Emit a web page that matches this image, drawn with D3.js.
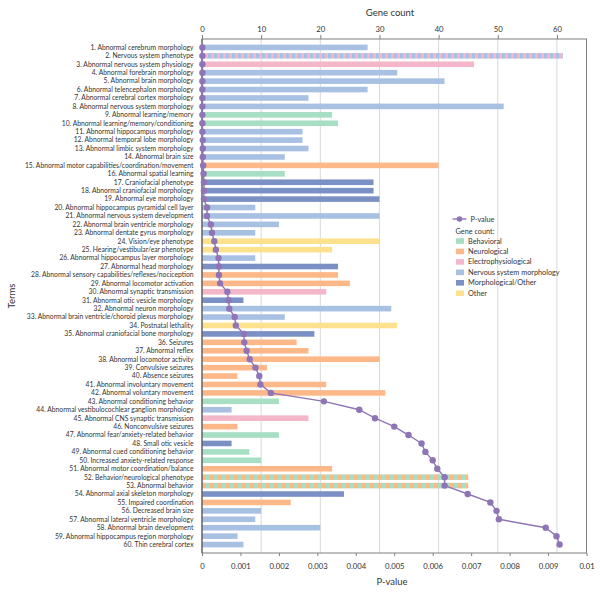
<!DOCTYPE html>
<html><head><meta charset="utf-8">
<script src="https://cdn.jsdelivr.net/npm/d3@7/dist/d3.min.js"></script>
<style>
body{margin:0;background:#fff;}
text{font-family:Lato,"Open Sans",sans-serif;fill:#333;}
</style></head>
<body><svg id="c" width="600" height="595"></svg>
<script>
const terms = ["Abnormal cerebrum morphology","Nervous system phenotype","Abnormal nervous system physiology","Abnormal forebrain morphology","Abnormal brain morphology","Abnormal telencephalon morphology","Abnormal cerebral cortex morphology","Abnormal nervous system morphology","Abnormal learning/memory","Abnormal learning/memory/conditioning","Abnormal hippocampus morphology","Abnormal temporal lobe morphology","Abnormal limbic system morphology","Abnormal brain size","Abnormal motor capabilities/coordination/movement","Abnormal spatial learning","Craniofacial phenotype","Abnormal craniofacial morphology","Abnormal eye morphology","Abnormal hippocampus pyramidal cell layer","Abnormal nervous system development","Abnormal brain ventricle morphology","Abnormal dentate gyrus morphology","Vision/eye phenotype","Hearing/vestibular/ear phenotype","Abnormal hippocampus layer morphology","Abnormal head morphology","Abnormal sensory capabilities/reflexes/nociception","Abnormal locomotor activation","Abnormal synaptic transmission","Abnormal otic vesicle morphology","Abnormal neuron morphology","Abnormal brain ventricle/choroid plexus morphology","Postnatal lethality","Abnormal craniofacial bone morphology","Seizures","Abnormal reflex","Abnormal locomotor activity","Convulsive seizures","Absence seizures","Abnormal involuntary movement","Abnormal voluntary movement","Abnormal conditioning behavior","Abnormal vestibulocochlear ganglion morphology","Abnormal CNS synaptic transmission","Nonconvulsive seizures","Abnormal fear/anxiety-related behavior","Small otic vesicle","Abnormal cued conditioning behavior","Increased anxiety-related response","Abnormal motor coordination/balance","Behavior/neurological phenotype","Abnormal behavior","Abnormal axial skeleton morphology","Impaired coordination","Decreased brain size","Abnormal lateral ventricle morphology","Abnormal brain development","Abnormal hippocampus region morphology","Thin cerebral cortex"];
const geneCounts = [28,61,46,33,41,28,18,51,22,23,17,17,18,14,40,14,29,29,30,9,30,13,9,30,22,9,23,23,25,21,7,32,14,33,19,16,18,30,11,6,21,31,13,5,18,6,13,5,8,10,22,45,45,24,15,10,9,20,6,7];
const pValues = [0.00001,0.00001,0.00001,0.00001,0.00001,0.00001,0.00001,0.00001,0.00001,0.00001,0.00001,0.00002,0.00002,0.00002,0.00003,0.00004,0.00005,0.00005,0.00005,0.00013,0.00013,0.00023,0.00026,0.00032,0.00036,0.00043,0.00044,0.00044,0.00047,0.00066,0.00069,0.00071,0.00085,0.00088,0.00109,0.0011,0.00116,0.00124,0.00139,0.00149,0.00152,0.00179,0.00317,0.00409,0.0045,0.005,0.00537,0.00571,0.00581,0.006,0.00612,0.00631,0.00631,0.00691,0.0075,0.00766,0.00772,0.00894,0.00922,0.0093];
// category codes: B Behavioral, N Neurological, E Electrophysiological, S Nervous system morphology, M Morphological/Other, O Other
const categories = ["S","S","E","S","S","S","S","S","B","B","S","S","S","S","N","B","M","M","M","S","S","S","S","O","O","S","M","N","N","E","M","S","S","O","M","N","N","N","N","N","N","N","B","S","E","N","B","M","B","B","N","N","N","M","N","S","S","S","S","S"];
const secondCategories = ["","E","","","","","","","","","","","","","","","","","","","","","","","","","","","","","","","","","","","","","","","","","","","","","","","","","","B","B","","","","","","",""];
const legendNames = ["Behavioral","Neurological","Electrophysiological","Nervous system morphology","Morphological/Other","Other"];
const legendCodes = ["B","N","E","S","M","O"];
const geneTicks = [0,10,20,30,40,50,60];
const pTicks = [0,0.001,0.002,0.003,0.004,0.005,0.006,0.007,0.008,0.009,0.01];

const colors = {B:"#a6dfc4",N:"#fdb88a",E:"#f4b7c9",S:"#a8c1e2",M:"#7b91c5",O:"#fde28e"};
const purple = "#8f75b6";

const svg = d3.select("#c");
const L=202, R=586.5, T=39, B=553;
const x = d3.scaleLinear().domain([0,65]).range([L,R]);
const xp = d3.scaleLinear().domain([0,0.01]).range([L,R]);
const idx = d3.range(terms.length);
const y = d3.scalePoint().domain(idx).range([T,B]).padding(1);
const bh = 5.6;

const defs = svg.append("defs");
idx.forEach(i=>{
  if(secondCategories[i]){
    const per = secondCategories[i]==="E"?6:8;
    const p = defs.append("pattern").attr("id","pat"+i).attr("patternUnits","userSpaceOnUse")
      .attr("x",L).attr("width",per).attr("height",10);
    p.append("rect").attr("width",per/2).attr("height",10).attr("fill",colors[categories[i]]);
    p.append("rect").attr("x",per/2).attr("width",per/2).attr("height",10).attr("fill",colors[secondCategories[i]]);
  }
});

// gridlines
svg.append("g").selectAll("line").data(geneTicks.slice(1)).join("line")
  .attr("x1",d=>x(d)).attr("x2",d=>x(d)).attr("y1",T).attr("y2",B)
  .attr("stroke","#d9d9d9").attr("stroke-width",1);

// bars
svg.append("g").selectAll("rect").data(idx).join("rect")
  .attr("x",L).attr("y",i=>y(i)-bh/2).attr("width",i=>x(geneCounts[i])-L).attr("height",bh)
  .attr("fill",i=>secondCategories[i]?`url(#pat${i})`:colors[categories[i]]);

// frame
svg.append("rect").attr("x",L).attr("y",T).attr("width",R-L).attr("height",B-T)
  .attr("fill","none").attr("stroke","#7f7f7f").attr("stroke-width",1);
svg.append("line").attr("x1",L).attr("x2",L).attr("y1",T).attr("y2",B).attr("stroke","#555");

// axes
const gt = svg.append("g").attr("transform",`translate(0,${T})`)
  .call(d3.axisTop(x).tickValues(geneTicks).tickSize(4).tickPadding(3));
gt.select(".domain").remove();
gt.selectAll("line").attr("stroke","#7f7f7f");
gt.selectAll("text").style("font-size","7.7px").attr("fill","#333");

const gb = svg.append("g").attr("transform",`translate(0,${B})`)
  .call(d3.axisBottom(xp).tickValues(pTicks).tickSize(3).tickPadding(8).tickFormat(d=>d===0?"0":d3.format("")(+d.toFixed(3))));
gb.select(".domain").remove();
gb.selectAll("line").attr("stroke","#7f7f7f");
gb.selectAll("text").style("font-size","7.7px").attr("fill","#333");

// term labels
svg.append("g").selectAll("text").data(idx).join("text")
  .attr("x",193.5).attr("y",i=>y(i)).attr("dy","0.35em").attr("text-anchor","end")
  .style("font-size","6.75px").text(i=>`${i+1}. ${terms[i]}`);

// p-value line
const line = d3.line().x(i=>xp(pValues[i])).y(i=>y(i));
svg.append("path").datum(idx).attr("d",line).attr("fill","none").attr("stroke",purple).attr("stroke-width",1.4);
svg.append("g").selectAll("circle").data(idx).join("circle")
  .attr("cx",i=>xp(pValues[i])).attr("cy",i=>y(i)).attr("r",3.2).attr("fill",purple);

// titles
svg.append("text").attr("x",390).attr("y",16).attr("text-anchor","middle").style("font-size","9.5px").text("Gene count");
svg.append("text").attr("x",392).attr("y",585).attr("text-anchor","middle").style("font-size","9.5px").text("P-value");
svg.append("text").attr("transform","translate(15,296) rotate(-90)").attr("text-anchor","middle").style("font-size","9.5px").text("Terms");

// legend
const lg = svg.append("g");
lg.append("line").attr("x1",452.5).attr("x2",466.5).attr("y1",219).attr("y2",219).attr("stroke",purple).attr("stroke-width",1.4);
lg.append("circle").attr("cx",459.5).attr("cy",219).attr("r",2.8).attr("fill",purple);
lg.append("text").attr("x",470.5).attr("y",219).attr("dy","0.35em").style("font-size","7.3px").text("P-value");
lg.append("text").attr("x",455.5).attr("y",231).attr("dy","0.35em").style("font-size","7.3px").text("Gene count:");
lg.selectAll("rect.sw").data(legendCodes).join("rect").attr("class","sw")
  .attr("x",456).attr("y",(d,i)=>241+i*10.45-2.8).attr("width",8).attr("height",5.6).attr("fill",d=>colors[d]);
lg.selectAll("text.lt").data(legendNames).join("text").attr("class","lt")
  .attr("x",468).attr("y",(d,i)=>241+i*10.45).attr("dy","0.35em").style("font-size","7.3px").text(d=>d);
</script></body></html>
